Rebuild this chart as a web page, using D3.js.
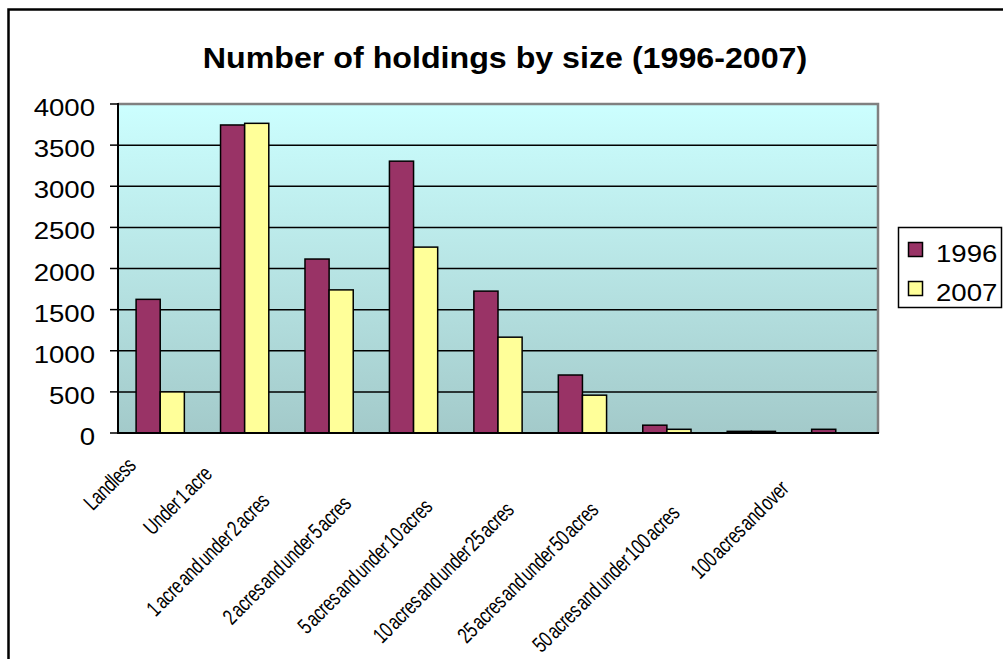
<!DOCTYPE html>
<html>
<head>
<meta charset="utf-8">
<script src="https://cdn.jsdelivr.net/npm/d3@7/dist/d3.min.js"></script>
<style>
  html, body { margin: 0; padding: 0; background: #fff; }
  svg { display: block; }
  text { font-family: "Liberation Sans", Arial, sans-serif; fill: #000; }
</style>
</head>
<body>
<svg id="chart" width="1003" height="659"></svg>
<script>
const title = "Number of holdings by size (1996-2007)";
const categories = [
  "Landless",
  "Under 1 acre",
  "1 acre and under 2 acres",
  "2 acres and under 5 acres",
  "5 acres and under 10 acres",
  "10 acres and under 25 acres",
  "25 acres and under 50 acres",
  "50 acres and under 100 acres",
  "100 acres and over"
];
const seriesNames = ["1996", "2007"];
const values1996 = [1625, 3745, 2115, 3305, 1725, 705, 95, 20, 45];
const values2007 = [500, 3765, 1740, 2260, 1165, 460, 45, 20, 0];
const yTicks = [0, 500, 1000, 1500, 2000, 2500, 3000, 3500, 4000];
const seriesColors = ["#993366", "#FFFF99"];

const svg = d3.select("#chart");
const plot = { left: 118, right: 878, top: 104, bottom: 433 };

// outer frame
svg.append("rect")
  .attr("x", 8.5).attr("y", 9.5).attr("width", 1010).attr("height", 670)
  .attr("fill", "#fff").attr("stroke", "#000").attr("stroke-width", 2.5);

// gradient background
const defs = svg.append("defs");
const grad = defs.append("linearGradient").attr("id", "bg")
  .attr("x1", 0).attr("y1", 0).attr("x2", 0).attr("y2", 1);
grad.append("stop").attr("offset", "0%").attr("stop-color", "#CCFFFF");
grad.append("stop").attr("offset", "100%").attr("stop-color", "#A3CACA");

const x = d3.scaleBand().domain(categories).range([plot.left, plot.right]).paddingInner(0).paddingOuter(0);
const x1 = d3.scaleBand().domain(seriesNames).range([0, x.bandwidth()]).paddingInner(0).paddingOuter(0.75);
const y = d3.scaleLinear().domain([0, 4000]).range([plot.bottom, plot.top]);

svg.append("rect")
  .attr("x", plot.left).attr("y", plot.top)
  .attr("width", plot.right - plot.left).attr("height", plot.bottom - plot.top)
  .attr("fill", "url(#bg)");

// gridlines
svg.append("g").selectAll("line")
  .data(yTicks.filter(t => t > 0 && t < 4000))
  .join("line")
  .attr("x1", plot.left).attr("x2", plot.right)
  .attr("y1", d => y(d)).attr("y2", d => y(d))
  .attr("stroke", "#000").attr("stroke-width", 1.5);

// top & right border (gray)
svg.append("path")
  .attr("d", `M${plot.left},${plot.top}H${plot.right}V${plot.bottom}`)
  .attr("fill", "none").attr("stroke", "#808080").attr("stroke-width", 2.5);

// bars
const seriesData = [values1996, values2007];
const barG = svg.append("g");
categories.forEach((c, i) => {
  seriesNames.forEach((s, j) => {
    const v = seriesData[j][i];
    if (v <= 0) return;
    barG.append("rect")
      .attr("x", x(c) + x1(s))
      .attr("y", y(v))
      .attr("width", x1.bandwidth())
      .attr("height", y(0) - y(v))
      .attr("fill", seriesColors[j])
      .attr("stroke", "#000")
      .attr("stroke-width", 1.5);
  });
});

// y axis
const yAxis = svg.append("g").attr("transform", `translate(${plot.left},0)`);
yAxis.append("line").attr("x1", 0).attr("x2", 0).attr("y1", plot.top - 1).attr("y2", plot.bottom + 1)
  .attr("stroke", "#000").attr("stroke-width", 2);
yAxis.selectAll(".tick").data(yTicks).join("line")
  .attr("x1", -8).attr("x2", 0)
  .attr("y1", d => y(d)).attr("y2", d => y(d))
  .attr("stroke", "#000").attr("stroke-width", 1.5);
yAxis.selectAll("text").data(yTicks).join("text")
  .attr("transform", d => `translate(-23,${y(d) + 12}) scale(1.2,1)`)
  .attr("text-anchor", "end")
  .attr("font-size", 23)
  .text(d => d);

// x axis line
svg.append("line")
  .attr("x1", plot.left - 1).attr("x2", plot.right + 1)
  .attr("y1", plot.bottom).attr("y2", plot.bottom)
  .attr("stroke", "#000").attr("stroke-width", 2);

// x labels rotated
const sx = 0.74;
const xl = svg.append("g");
categories.forEach(c => {
  const cx = x(c) + x.bandwidth() / 2;
  const t = xl.append("text")
    .attr("font-size", 22)
    .attr("text-anchor", "end")
    .attr("dy", "0.35em")
    .attr("word-spacing", -3)
    .attr("letter-spacing", -0.4)
    .text(c);
  const len = t.node().getComputedTextLength() * sx;
  const d = len / 2 + 9;
  const px = cx - d / Math.SQRT2;
  const py = plot.bottom + d / Math.SQRT2;
  t.attr("transform", `translate(${px},${py}) rotate(-45) scale(${sx},1)`);
});

// title
svg.append("text")
  .attr("transform", "translate(505,68) scale(1.11,1)")
  .attr("text-anchor", "middle")
  .attr("font-size", 29)
  .attr("font-weight", "bold")
  .text(title);

// legend
const lg = svg.append("g");
lg.append("rect").attr("x", 898.5).attr("y", 227.5).attr("width", 103).attr("height", 80)
  .attr("fill", "#fff").attr("stroke", "#000").attr("stroke-width", 1.5);
seriesNames.forEach((s, j) => {
  const yy = 242 + j * 39;
  lg.append("rect").attr("x", 908.5).attr("y", yy + 0.5).attr("width", 14).attr("height", 14)
    .attr("fill", seriesColors[j]).attr("stroke", "#000").attr("stroke-width", 1.5);
  lg.append("text")
    .attr("transform", `translate(936,${yy + 20}) scale(1.2,1)`)
    .attr("font-size", 23)
    .text(s);
});
</script>
</body>
</html>
